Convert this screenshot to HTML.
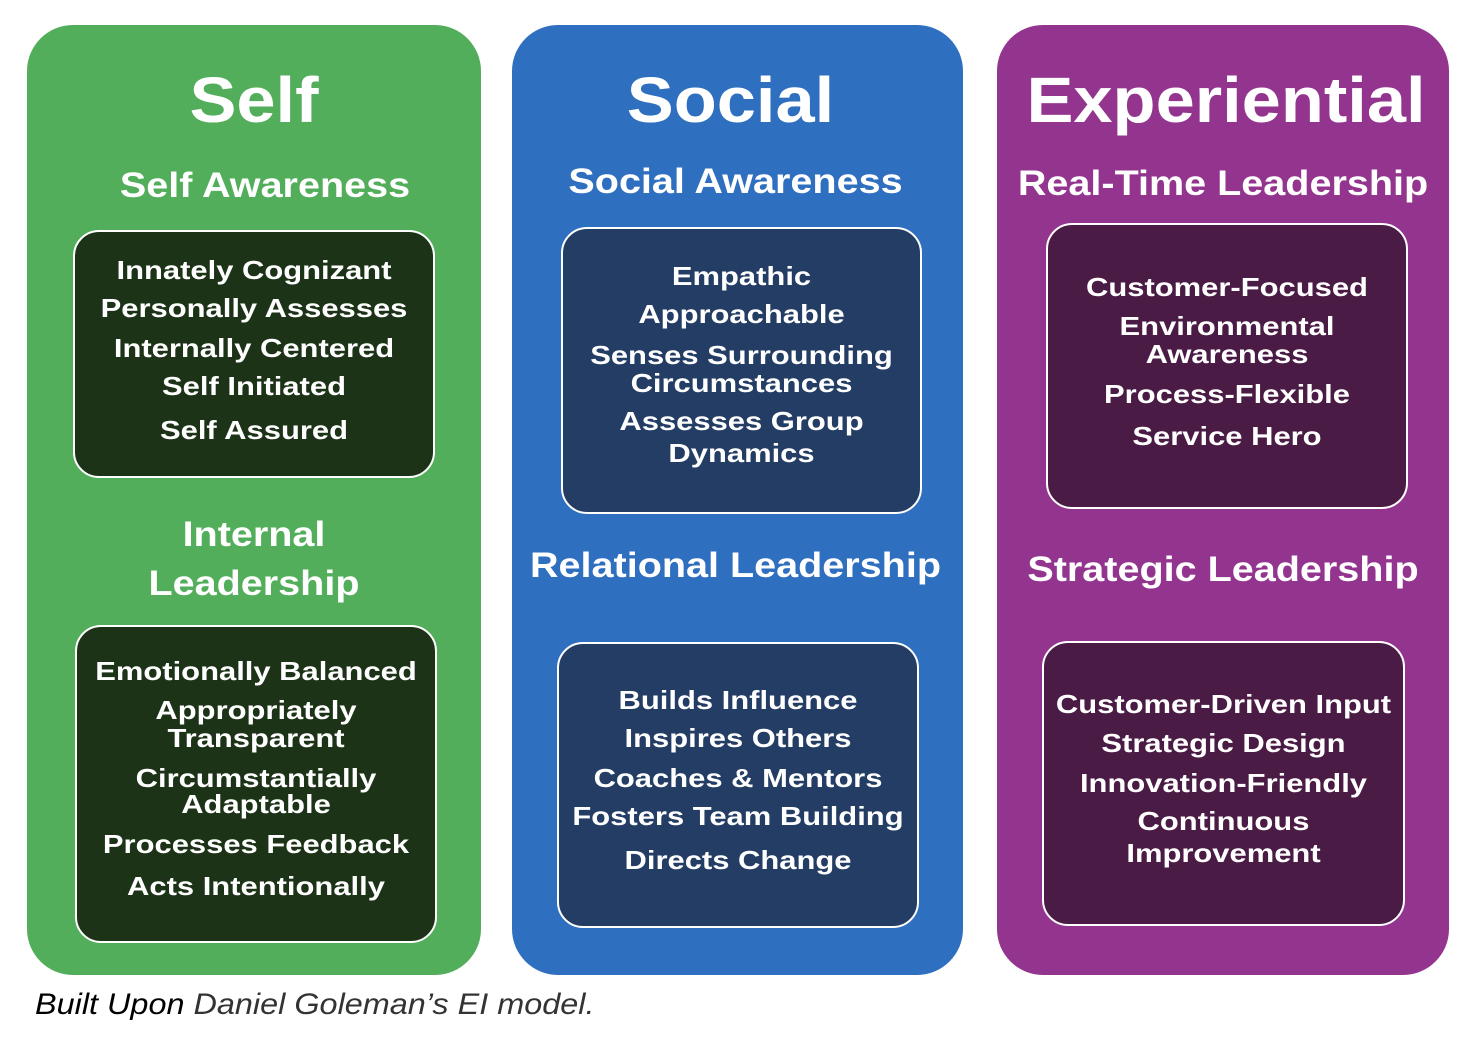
<!DOCTYPE html>
<html><head><meta charset="utf-8"><style>
body{margin:0;width:1480px;height:1046px;background:#fff;position:relative;overflow:hidden;font-family:"Liberation Sans",sans-serif;}
.col{position:absolute;top:25px;height:950px;border-radius:46px;}
.box{position:absolute;border:2.5px solid #fff;border-radius:26px;box-sizing:border-box;}
.t{position:absolute;color:#fff;font-weight:bold;text-align:center;white-space:nowrap;transform-origin:center;}
.h{font-size:64px;line-height:64px;transform:scaleX(1.1);}
.s{font-size:35px;line-height:36px;transform:scaleX(1.13);}
.i{font-size:26px;line-height:28px;transform:scaleX(1.19);}
</style></head><body>
<div class="col" style="left:27px;width:454px;background:#53ae5b"></div>
<div class="col" style="left:512px;width:451px;background:#2f6fbf"></div>
<div class="col" style="left:997px;width:452px;background:#93358f"></div>

<div class="box" style="left:73px;top:230px;width:362px;height:248px;background:#1c3318"></div>
<div class="box" style="left:75px;top:625px;width:362px;height:318px;background:#1c3318"></div>
<div class="box" style="left:561px;top:227px;width:361px;height:287px;background:#233d64"></div>
<div class="box" style="left:557px;top:642px;width:362px;height:286px;background:#233d64"></div>
<div class="box" style="left:1046px;top:223px;width:362px;height:286px;background:#4a1b45"></div>
<div class="box" style="left:1042px;top:641px;width:363px;height:285px;background:#4a1b45"></div>

<!-- Self -->
<div class="t h" style="left:27px;width:454px;top:68px">Self</div>
<div class="t s" style="left:38px;width:454px;top:168px">Self Awareness</div>
<div class="t i" style="left:73px;width:362px;top:256px">Innately Cognizant</div>
<div class="t i" style="left:73px;width:362px;top:294px">Personally Assesses</div>
<div class="t i" style="left:73px;width:362px;top:334px">Internally Centered</div>
<div class="t i" style="left:73px;width:362px;top:372px">Self Initiated</div>
<div class="t i" style="left:73px;width:362px;top:416px">Self Assured</div>
<div class="t s" style="left:27px;width:454px;top:517px">Internal</div>
<div class="t s" style="left:27px;width:454px;top:566px">Leadership</div>
<div class="t i" style="left:75px;width:362px;top:657px">Emotionally Balanced</div>
<div class="t i" style="left:75px;width:362px;top:696px">Appropriately</div>
<div class="t i" style="left:75px;width:362px;top:724px">Transparent</div>
<div class="t i" style="left:75px;width:362px;top:764px">Circumstantially</div>
<div class="t i" style="left:75px;width:362px;top:790px">Adaptable</div>
<div class="t i" style="left:75px;width:362px;top:830px">Processes Feedback</div>
<div class="t i" style="left:75px;width:362px;top:872px">Acts Intentionally</div>

<!-- Social -->
<div class="t h" style="left:512px;width:437px;top:68px">Social</div>
<div class="t s" style="left:512px;width:447px;top:164px">Social Awareness</div>
<div class="t i" style="left:561px;width:361px;top:262px">Empathic</div>
<div class="t i" style="left:561px;width:361px;top:300px">Approachable</div>
<div class="t i" style="left:561px;width:361px;top:341px">Senses Surrounding</div>
<div class="t i" style="left:561px;width:361px;top:369px">Circumstances</div>
<div class="t i" style="left:561px;width:361px;top:407px">Assesses Group</div>
<div class="t i" style="left:561px;width:361px;top:439px">Dynamics</div>
<div class="t s" style="left:510px;width:451px;top:548px">Relational Leadership</div>
<div class="t i" style="left:557px;width:362px;top:686px">Builds Influence</div>
<div class="t i" style="left:557px;width:362px;top:724px">Inspires Others</div>
<div class="t i" style="left:557px;width:362px;top:764px">Coaches &amp; Mentors</div>
<div class="t i" style="left:557px;width:362px;top:802px">Fosters Team Building</div>
<div class="t i" style="left:557px;width:362px;top:846px">Directs Change</div>

<!-- Experiential -->
<div class="t h" style="left:997px;width:458px;top:68px">Experiential</div>
<div class="t s" style="left:997px;width:452px;top:166px">Real-Time Leadership</div>
<div class="t i" style="left:1046px;width:362px;top:273px">Customer-Focused</div>
<div class="t i" style="left:1046px;width:362px;top:312px">Environmental</div>
<div class="t i" style="left:1046px;width:362px;top:340px">Awareness</div>
<div class="t i" style="left:1046px;width:362px;top:380px">Process-Flexible</div>
<div class="t i" style="left:1046px;width:362px;top:422px">Service Hero</div>
<div class="t s" style="left:997px;width:452px;top:552px">Strategic Leadership</div>
<div class="t i" style="left:1042px;width:363px;top:690px">Customer-Driven Input</div>
<div class="t i" style="left:1042px;width:363px;top:729px">Strategic Design</div>
<div class="t i" style="left:1042px;width:363px;top:769px">Innovation-Friendly</div>
<div class="t i" style="left:1042px;width:363px;top:807px">Continuous</div>
<div class="t i" style="left:1042px;width:363px;top:839px">Improvement</div>

<div style="position:absolute;left:35px;top:988px;font-size:30px;font-style:italic;color:#000;white-space:nowrap;transform:scaleX(1.08);transform-origin:left">Built Upon <span style="color:#333">Daniel Goleman’s EI model.</span></div>
</body></html>
